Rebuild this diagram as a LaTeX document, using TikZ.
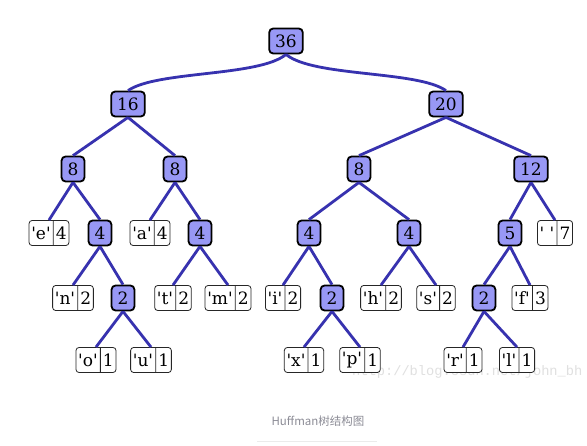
\documentclass[tikz,border=0pt]{standalone}
\usepackage{fontspec}
\setmainfont{DejaVu Serif}
\newfontfamily\cjkfont{Noto Sans CJK SC}
\newfontfamily\wmfont{Liberation Mono}
\usetikzlibrary{shapes.multipart}
\definecolor{edgeblue}{RGB}{55,50,175}
\definecolor{nodefill}{RGB}{152,152,245}
\newcommand{\qq}{\textquotesingle}
\tikzset{
  inode/.style={draw=black, line width=1.8pt, fill=nodefill, rounded corners=4pt,
    minimum height=25pt, inner xsep=6pt, inner ysep=0pt,
    font=\fontsize{17}{20}\selectfont},
  leaf/.style={draw=black!85, line width=0.8pt, fill=white, rounded corners=3pt,
    rectangle split, rectangle split horizontal, rectangle split parts=2,
    minimum height=25pt, inner xsep=2.2pt, inner ysep=0pt,
    font=\fontsize{17}{20}\selectfont},
  tedge/.style={draw=edgeblue, line width=2.8pt},
}
\begin{document}
\begin{tikzpicture}[x=1pt,y=-1pt]
\useasboundingbox[fill=white] (0,0) rectangle (587,446);
% watermark
\node[anchor=base west, inner sep=0pt, text=black!12, font=\wmfont\fontsize{13.7}{16}\selectfont] (wm) at (352,376) {http://blog.csdn.net/john\_bh};
% internal nodes
\node[inode] (n36) at (286,41) {36};
\node[inode] (n16) at (128,104) {16};
\node[inode] (n20) at (446,104) {20};
\node[inode] (n8a) at (73,169) {8};
\node[inode] (n8b) at (175,169) {8};
\node[inode] (n8c) at (359,169) {8};
\node[inode] (n12) at (531,169) {12};
\node[inode] (n4a) at (100,233) {4};
\node[inode] (n4b) at (200,233) {4};
\node[inode] (n4c) at (309,233) {4};
\node[inode] (n4d) at (409,233) {4};
\node[inode] (n5) at (510,233) {5};
\node[inode] (n2a) at (123,298) {2};
\node[inode] (n2b) at (332,298) {2};
\node[inode] (n2c) at (484,298) {2};
% leaves
\node[leaf] (le) at (49,233) {\qq e\qq\nodepart{two}4};
\node[leaf] (la) at (150,233) {\qq a\qq\nodepart{two}4};
\node[leaf] (lsp) at (555,233) {\qq\ \qq\nodepart{two}7};
\node[leaf] (ln) at (73,298) {\qq n\qq\nodepart{two}2};
\node[leaf] (lt) at (173,298) {\qq t\qq\nodepart{two}2};
\node[leaf] (lm) at (228,298) {\qq m\qq\nodepart{two}2};
\node[leaf] (li) at (283,298) {\qq i\qq\nodepart{two}2};
\node[leaf] (lh) at (381,298) {\qq h\qq\nodepart{two}2};
\node[leaf] (ls) at (436,298) {\qq s\qq\nodepart{two}2};
\node[leaf] (lf) at (530,298) {\qq f\qq\nodepart{two}3};
\node[leaf] (lo) at (96,360) {\qq o\qq\nodepart{two}1};
\node[leaf] (lu) at (151,360) {\qq u\qq\nodepart{two}1};
\node[leaf] (lx) at (304,360) {\qq x\qq\nodepart{two}1};
\node[leaf] (lp) at (360,360) {\qq p\qq\nodepart{two}1};
\node[leaf] (lr) at (463,360) {\qq r\qq\nodepart{two}1};
\node[leaf] (ll) at (517,360) {\qq l\qq\nodepart{two}1};
% edges
\draw[tedge] (n36.south) to[out=-140,in=35,looseness=0.55] (n16.north);
\draw[tedge] (n36.south) to[out=-40,in=145,looseness=0.55] (n20.north);
\foreach \a/\b in {n16/n8a,n16/n8b,n20/n8c,n20/n12,
  n8a/le,n8a/n4a,n8b/la,n8b/n4b,n8c/n4c,n8c/n4d,n12/n5,n12/lsp,
  n4a/ln,n4a/n2a,n4b/lt,n4b/lm,n4c/li,n4c/n2b,n4d/lh,n4d/ls,n5/n2c,n5/lf,
  n2a/lo,n2a/lu,n2b/lx,n2b/lp,n2c/lr,n2c/ll}
  \draw[tedge] (\a.south) -- (\b.north);
% caption
\node[text={rgb,255:red,140;green,140;blue,150}, font=\cjkfont\fontsize{11.5}{13}\selectfont] (cap) at (318,421) {Huffman树结构图};
\coordinate (ulA) at (257,442);
\coordinate (ulB) at (377,442);
\draw[black!8, line width=1pt] (ulA) -- (ulB);
\end{tikzpicture}
\end{document}
